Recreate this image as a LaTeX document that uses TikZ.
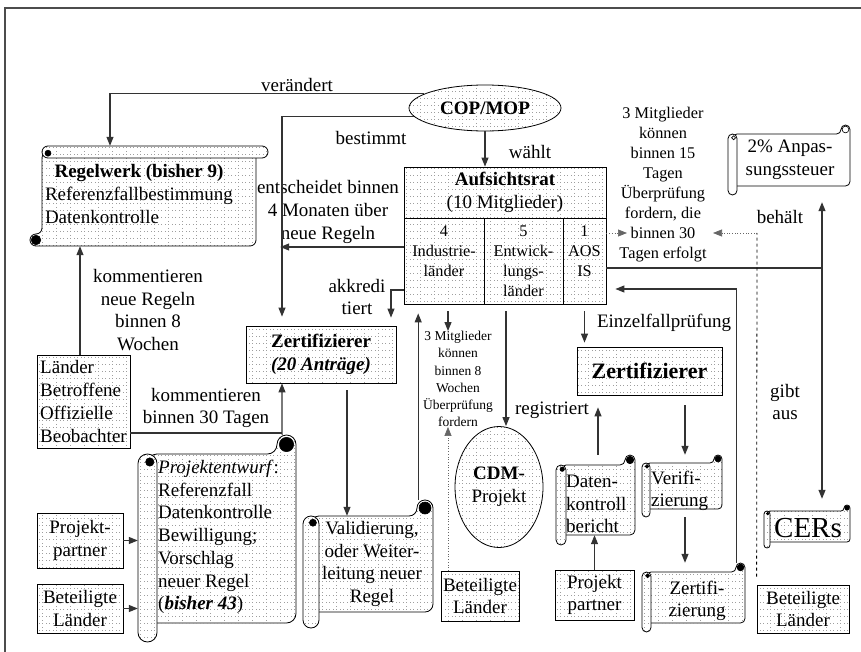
\documentclass[tikz,border=0pt]{standalone}
\usepackage{fontspec}
\setmainfont{Liberation Serif}
\usetikzlibrary{positioning}
\usetikzlibrary{arrows.meta}
\usetikzlibrary{patterns.meta}
\usetikzlibrary{shapes.geometric}

\tikzdeclarepattern{
  name=dotgrid,
  type=uncolored,
  bottom left={(-0.1pt,-0.1pt)},
  top right={(14.1pt,7.1pt)},
  tile size={(14pt,7pt)},
  code={
    \fill (0pt,0pt) rectangle (0.7pt,0.7pt);
    \fill (3.5pt,0pt) rectangle (4.2pt,0.7pt);
    \fill (7pt,0pt) rectangle (7.7pt,0.7pt);
    \fill (10.5pt,0pt) rectangle (11.2pt,0.7pt);
    \fill (0pt,3.5pt) rectangle (0.7pt,4.2pt);
  }
}

\tikzset{
  dotfill/.style={preaction={fill=white}, pattern=dotgrid, pattern color=black!38},
  bx/.style={draw=black, line width=0.8pt, dotfill, inner sep=0pt, align=center, font=\fontsize{19}{22.7}\selectfont},
  lbl/.style={inner sep=0pt, align=center, font=\fontsize{19}{22.7}\selectfont},
  smalllbl/.style={inner sep=0pt, align=center, font=\fontsize{16.3}{20}\selectfont},
  tinylbl/.style={inner sep=0pt, align=center, font=\fontsize{13.5}{17.2}\selectfont},
  conn/.style={draw=black!80, line width=1.1pt},
  arr/.style={conn, -{Triangle[length=9pt,width=7pt]}},
  dotarr/.style={draw=black!60, line width=0.7pt, dotted, -{Triangle[length=9pt,width=7pt]}}
}

% vertical scroll: name, x0, y0, x1, y1, roll, fill, curl colour
\newcommand{\vscroll}[8]{%
  \pgfmathsetmacro\scxa{#2}\pgfmathsetmacro\scya{#3}%
  \pgfmathsetmacro\scxb{#4}\pgfmathsetmacro\scyb{#5}%
  \pgfmathsetmacro\scr{#6}\pgfmathsetmacro\sch{#6/2}%
  \pgfmathsetmacro\scw{#4-#2}\pgfmathsetmacro\sce{#5-#3}%
  \filldraw[#7, line width=0.8pt, rounded corners=\sch pt] (\scxa+\sch,\scya+\scr) -- (\scxb-\scr,\scya+\scr) -- (\scxb-\scr,\scya) -- (\scxb,\scya) -- (\scxb,\scyb-\scr) -- (\scxa+\sch,\scyb-\scr) -- cycle;
  \filldraw[fill=#8, line width=0.6pt] (\scxb-\sch,\scya+\sch) circle[radius=0.75*\sch];
  \filldraw[#7, line width=0.8pt, rounded corners=\sch pt] (\scxa,\scya+\scr) rectangle (\scxa+\scr,\scyb);
  \filldraw[fill=#8, line width=0.6pt] (\scxa+0.62*\scr,\scya+1.42*\scr) circle[radius=0.22*\scr];
  \node[inner sep=0pt, minimum width=\scw pt, minimum height=\sce pt] (#1) at ({(#2+#4)/2},{(#3+#5)/2}) {};
}
% horizontal scroll: name, x0, y0, x1, y1, roll, fill, curl colour
\newcommand{\hscroll}[8]{%
  \pgfmathsetmacro\scxa{#2}\pgfmathsetmacro\scya{#3}%
  \pgfmathsetmacro\scxb{#4}\pgfmathsetmacro\scyb{#5}%
  \pgfmathsetmacro\scr{#6}\pgfmathsetmacro\sch{#6/2}%
  \pgfmathsetmacro\scw{#4-#2}\pgfmathsetmacro\sce{#5-#3}%
  \filldraw[#7, line width=0.8pt, rounded corners=\sch pt] (\scxb-\scr,\scya+\sch) -- (\scxb-\scr,\scyb) -- (\scxa,\scyb) -- (\scxa,\scyb-\scr) -- (\scxa+\scr,\scyb-\scr) -- (\scxa+\scr,\scya+\sch) -- cycle;
  \filldraw[fill=#8, line width=0.6pt] (\scxa+\sch,\scyb-\sch) circle[radius=0.8*\sch];
  \filldraw[#7, line width=0.8pt, rounded corners=\sch pt] (\scxa+\scr,\scya) rectangle (\scxb,\scya+\scr);
  \filldraw[fill=#8, line width=0.6pt] (\scxa+1.5*\scr,\scya+0.6*\scr) circle[radius=0.25*\scr];
  \node[inner sep=0pt, minimum width=\scw pt, minimum height=\sce pt] (#1) at ({(#2+#4)/2},{(#3+#5)/2}) {};
}

\begin{document}
\begin{tikzpicture}[x=1pt, y=-1pt]
\useasboundingbox[fill=white] (0,0) rectangle (861,652);
\draw[line width=1.2pt, black!70] (5,652) -- (5,8) -- (861,8);

\node[bx, ellipse, minimum width=152pt, minimum height=46pt] (cop) at (485,108) {\textbf{COP/MOP}};
\node[bx, minimum width=202pt, minimum height=51pt] (auf) at (505,192.5) {\textbf{Aufsichtsrat}\\(10 Mitglieder)};
\node[bx, minimum width=80pt, minimum height=86pt] (ind) at (444,261) {};
\node[bx, minimum width=79pt, minimum height=86pt] (ent) at (523.5,261) {};
\node[bx, minimum width=43pt, minimum height=86pt] (aos) at (584.5,261) {};
\node[smalllbl, anchor=north] (indt) at (444,226) {4\\Industrie-\\länder};
\node[smalllbl, anchor=north] (entt) at (523.5,226) {5\\Entwick-\\lungs-\\länder};
\node[smalllbl, anchor=north] (aost) at (584.5,226) {1\\AOS\\IS};

\hscroll{regel}{30}{146}{268}{246}{12}{dotfill}{black}
\node[lbl, align=left] (regelt) at (139,194) {\makebox[188pt]{\textbf{Regelwerk (bisher 9)}}\\Referenzfallbestimmung\\Datenkontrolle};
\vscroll{proj}{138}{435}{296}{642}{19}{dotfill}{black}
\node[lbl, align=left, anchor=west] (projt) at (158,537) {\textit{Projektentwurf}:\\Referenzfall\\Datenkontrolle\\Bewilligung;\\Vorschlag\\neuer Regel\\(\textbf{\textit{bisher 43}})};
\vscroll{val}{303}{500}{433}{628}{16}{dotfill}{black}
\node[lbl] (valt) at (372,564) {Validierung,\\oder Weiter-\\leitung neuer\\Regel};
\vscroll{datenk}{556}{455}{635}{545}{10}{dotfill}{black}
\node[lbl, align=left, anchor=west] (datenkt) at (566,504) {Daten-\\kontroll\\bericht};
\vscroll{verif}{642}{455}{722}{517}{8}{dotfill}{black}
\node[lbl, align=left, anchor=west] (verift) at (651,491) {Verifi-\\zierung};
\vscroll{zertg}{642}{563}{745}{632}{9}{dotfill}{black}
\node[lbl] (zertgt) at (697,601) {Zertifi-\\zierung};
\vscroll{cers}{764}{505}{850}{548}{6}{dotfill}{black}
\node[lbl, font=\fontsize{29}{34}\selectfont] (cerst) at (808,528) {CERs};
\vscroll{pct}{728}{125}{850}{195}{9}{fill=white}{white}
\node[lbl] (pctt) at (790,160) {2\% Anpas-\\sungssteuer};

\node[bx, minimum width=93pt, minimum height=93pt, align=left] (laender) at (83.5,401.5) {Länder\\Betroffene\\Offizielle\\Beobachter};
\node[bx, minimum width=86pt, minimum height=55pt] (pp1) at (80,540.5) {Projekt-\\partner};
\node[bx, minimum width=86pt, minimum height=49pt] (bl1) at (80,608.5) {Beteiligte\\Länder};
\node[bx, minimum width=150pt, minimum height=57pt] (zert1) at (321,354.5) {\textbf{Zertifizierer}\\\textbf{\textit{(20 Anträge)}}};
\node[bx, minimum width=78pt, minimum height=50pt] (bl2) at (480,596) {Beteiligte\\Länder};
\node[bx, minimum width=79pt, minimum height=50pt] (pp2) at (594.5,595) {Projekt\\partner};
\node[bx, minimum width=145pt, minimum height=48pt, font=\fontsize{22}{26}\selectfont] (zert2) at (649.5,371) {\textbf{Zertifizierer}};
\node[bx, minimum width=92pt, minimum height=48pt] (bl3) at (803,609) {Beteiligte\\Länder};
\node[bx, ellipse, minimum width=88pt, minimum height=121pt] (cdm) at (499,487) {\textbf{CDM-}\\Projekt};

\node[lbl] (verand) at (297,85) {verändert};
\node[lbl] (bestimmt) at (371,138) {bestimmt};
\node[lbl] (waehlt) at (530,152) {wählt};
\node[lbl] (entsch) at (328,212) {entscheidet binnen\\4 Monaten über\\neue Regeln};
\node[lbl] (akkred) at (357,297) {akkredi\\tiert};
\node[lbl] (kom8) at (148,310) {kommentieren\\neue Regeln\\binnen 8\\Wochen};
\node[lbl] (kom30) at (206,408) {kommentieren\\binnen 30 Tagen};
\node[tinylbl] (mit8) at (458,379) {3 Mitglieder\\können\\binnen 8\\Wochen\\Überprüfung\\fordern};
\node[smalllbl] (mit15) at (663,185) {3 Mitglieder\\können\\binnen 15\\Tagen\\Überprüfung\\fordern, die\\binnen 30\\Tagen erfolgt};
\node[lbl] (behaelt) at (780,217) {behält};
\node[lbl] (einzel) at (664,323) {Einzelfallprüfung};
\node[lbl] (regist) at (552,410) {registriert};
\node[lbl] (gibt) at (785,402) {gibt\\aus};

\coordinate (kjoin) at (282,433);
\coordinate (behj) at (822,268);
\coordinate (dashtop) at (757,233);
\coordinate (m15l) at (627,233);
\coordinate (m15r) at (713,233);

\draw[arr] (cop.167) -| ([xshift=-39pt]regel.north);
\draw[arr, shorten >=9pt] (cop.187) -| ([xshift=-39pt]zert1.north);
\draw[arr] (cop.south) -- (cop.south |- auf.north);
\draw[arr, shorten >=12pt] ([yshift=14pt]ind.west) -- ([yshift=14pt]ind.west -| regel.east);
\draw[arr, shorten >=8pt] ([yshift=-29pt]ind.west) -| ([xshift=70pt]zert1.north);
\draw[arr] ([xshift=-3.5pt]laender.north) -- ([xshift=-3.5pt]laender.north |- regel.south);
\draw[conn] (kjoin -| laender.east) -- (kjoin);
\draw[arr] ([xshift=-14pt]proj.north east) -- (kjoin) -- (kjoin |- zert1.south);
\draw[arr] (pp1.east) -- (pp1.east -| proj.west);
\draw[arr] (bl1.east) -- (bl1.east -| proj.west);
\draw[arr, shorten <=7pt] ([xshift=26pt]zert1.south) -- ([xshift=26pt, yshift=-16pt]zert1.south |- val.north);
\draw[arr, shorten >=9pt] ([xshift=-15pt]val.north east) -- ([xshift=-15pt]val.north east |- ind.south);
\draw[arr, shorten <=7pt] ([xshift=4pt]ind.south) -- ([xshift=4pt]ind.south |- mit8.north);
\draw[dotarr] ([xshift=-32pt]bl2.north) -- ([xshift=-32pt]bl2.north |- mit8.south);
\draw[arr, shorten <=7pt] ([xshift=-17.5pt]ent.south) -- ([xshift=-17.5pt]ent.south |- cdm.north);
\draw[arr, shorten <=7pt, shorten >=4pt] (aos.south) -- (aos.south |- zert2.north);
\draw[arr, shorten >=12pt] ([xshift=2.5pt]datenk.north) -- ([xshift=2.5pt]datenk.north |- zert2.south);
\draw[arr, shorten <=10pt] ([xshift=35.5pt]zert2.south) -- ([xshift=35.5pt]zert2.south |- verif.north);
\draw[arr] ([xshift=3pt]verif.south) -- ([xshift=3pt]verif.south |- zertg.north);
\draw[arr, shorten >=9pt] ([xshift=-9pt]zertg.north east) |- ([yshift=-28pt]aos.east);
\draw[conn] ([yshift=-7pt]aos.east) -- (behj);
\draw[arr, shorten >=7pt] (behj) -- (behj |- pct.south);
\draw[arr, shorten >=6pt] (behj) -- (behj |- cers.north);
\draw[arr] (pp2.north) -- ([yshift=10pt]pp2.north |- datenk.south);
\draw[dashed, line width=0.8pt, shorten <=8pt] (bl3.north west) -- (dashtop);
\draw[dotarr] (dashtop) -- (m15r);
\draw[dotarr] ([yshift=28pt]aos.east) -- (m15l);
\end{tikzpicture}
\end{document}
